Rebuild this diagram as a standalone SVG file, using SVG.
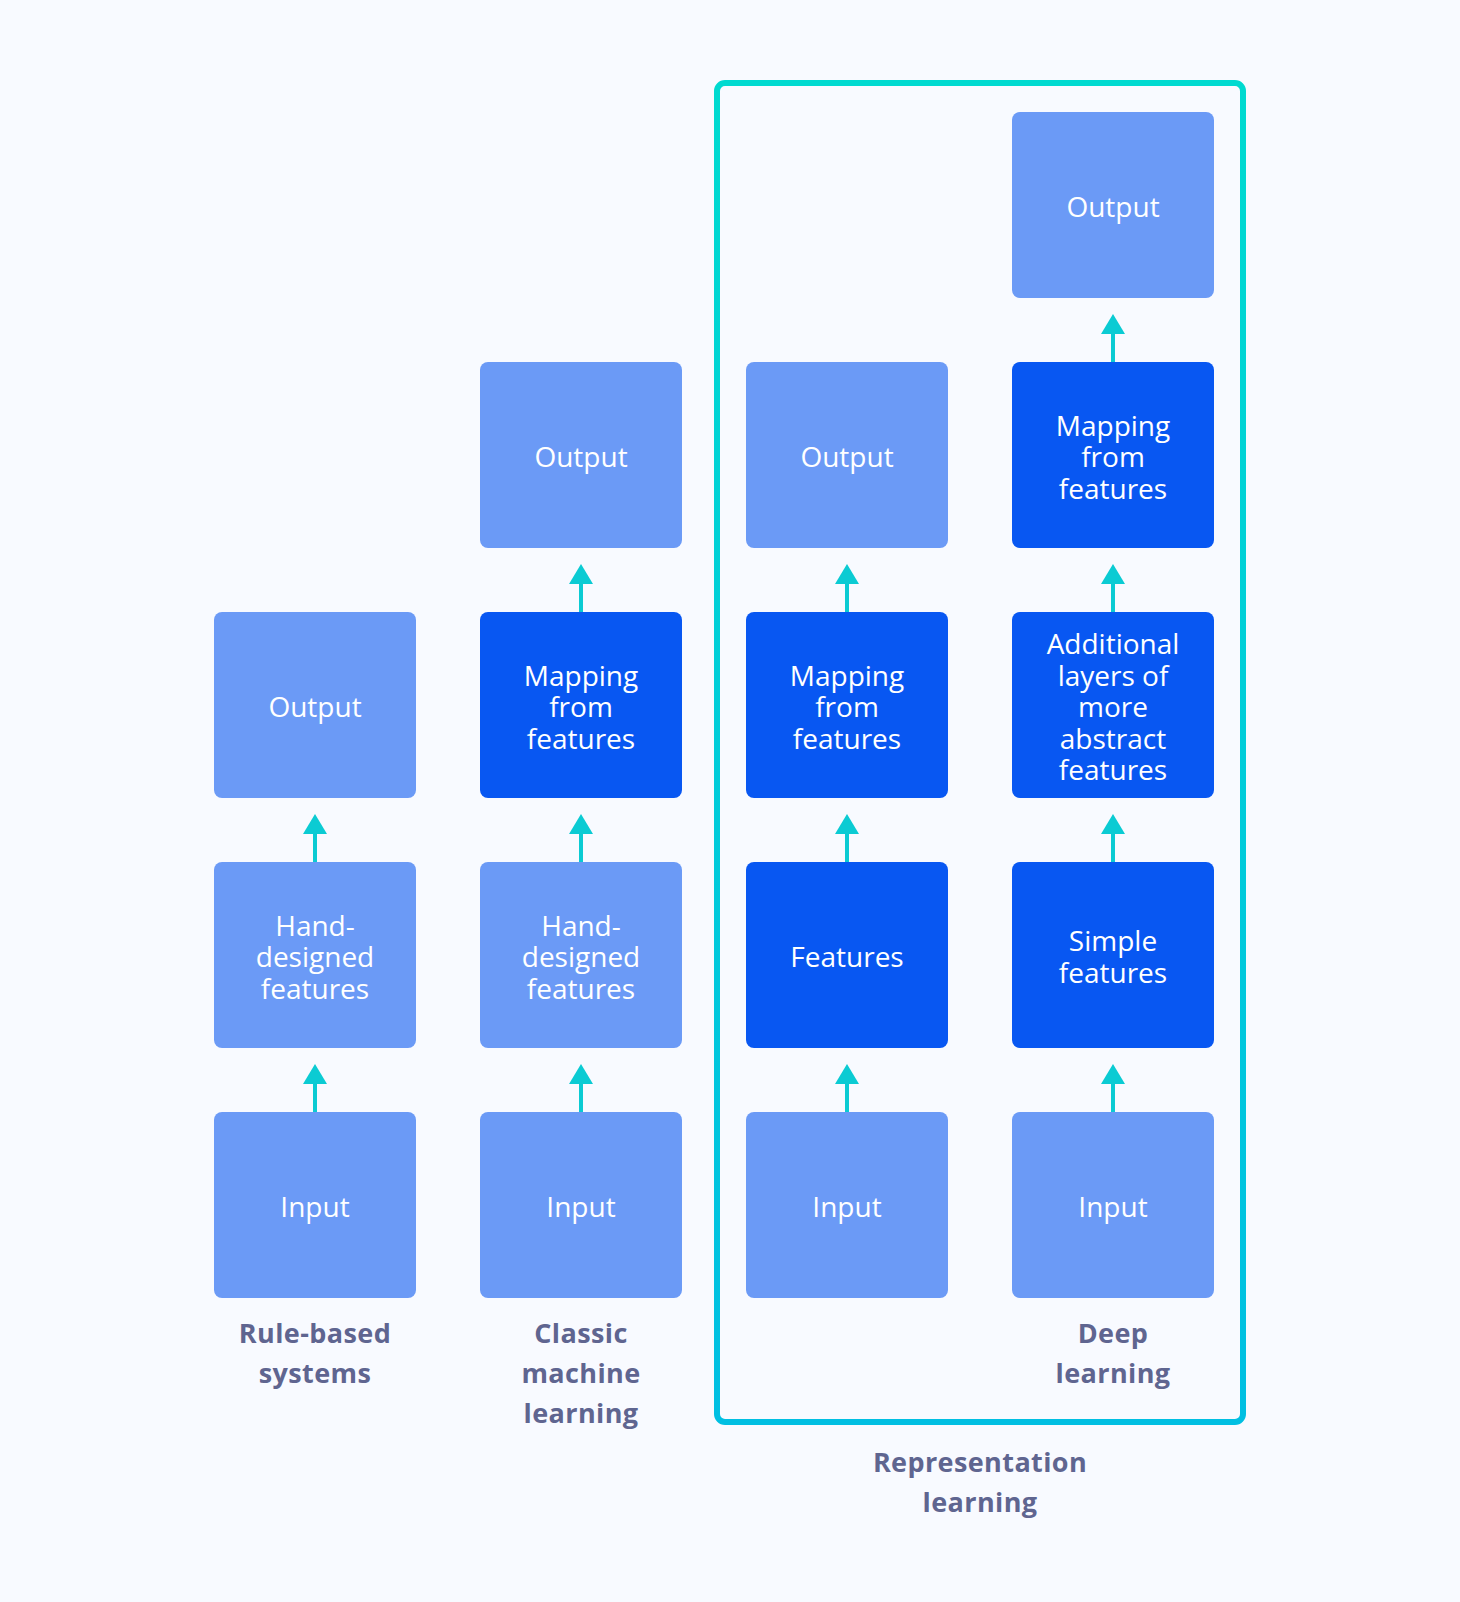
<svg xmlns="http://www.w3.org/2000/svg" width="1460" height="1602" viewBox="0 0 1460 1602">
<defs>
<style>
.lt{fill:#6B9AF6}
.dk{fill:#0857F2}
.bt{font-family:"Open Sans","Liberation Sans",sans-serif;font-size:28px;font-weight:500;fill:#FFFFFF;text-anchor:middle}
.lb{font-family:"Open Sans","Liberation Sans",sans-serif;font-size:27px;font-weight:700;fill:#5F6590;text-anchor:middle;letter-spacing:0.4px}
.ar{stroke:#0BCBD3;stroke-width:4;fill:none}
</style>
<marker id="ah" viewBox="0 0 20 24" refX="0" refY="12" markerWidth="20" markerHeight="24" markerUnits="userSpaceOnUse" orient="auto">
<path d="M0,0 L20,12 L0,24 Z" fill="#0BCBD3"/>
</marker>
<linearGradient id="fg" x1="0" y1="0" x2="0" y2="1">
<stop offset="0" stop-color="#00DAD0"/>
<stop offset="1" stop-color="#00BFE2"/>
</linearGradient>
</defs>
<rect x="0" y="0" width="1460" height="1602" fill="#F8FAFF"/>

<g id="representation-frame">
<rect x="717" y="83" width="526" height="1339" rx="8" fill="none" stroke="url(#fg)" stroke-width="6"/>
</g>

<g id="connectors">
<line class="ar" x1="315" y1="862" x2="315" y2="834" marker-end="url(#ah)"/>
<line class="ar" x1="315" y1="1112" x2="315" y2="1084" marker-end="url(#ah)"/>
<line class="ar" x1="581" y1="612" x2="581" y2="584" marker-end="url(#ah)"/>
<line class="ar" x1="581" y1="862" x2="581" y2="834" marker-end="url(#ah)"/>
<line class="ar" x1="581" y1="1112" x2="581" y2="1084" marker-end="url(#ah)"/>
<line class="ar" x1="847" y1="612" x2="847" y2="584" marker-end="url(#ah)"/>
<line class="ar" x1="847" y1="862" x2="847" y2="834" marker-end="url(#ah)"/>
<line class="ar" x1="847" y1="1112" x2="847" y2="1084" marker-end="url(#ah)"/>
<line class="ar" x1="1113" y1="362" x2="1113" y2="334" marker-end="url(#ah)"/>
<line class="ar" x1="1113" y1="612" x2="1113" y2="584" marker-end="url(#ah)"/>
<line class="ar" x1="1113" y1="862" x2="1113" y2="834" marker-end="url(#ah)"/>
<line class="ar" x1="1113" y1="1112" x2="1113" y2="1084" marker-end="url(#ah)"/>
</g>

<g id="rb-output"><rect class="lt" x="214" y="612" width="202" height="186" rx="8"/><text class="bt" x="315" y="717">Output</text></g>
<g id="rb-hand"><rect class="lt" x="214" y="862" width="202" height="186" rx="8"/><text class="bt" x="315" y="935.5">Hand-</text><text class="bt" x="315" y="967">designed</text><text class="bt" x="315" y="998.5">features</text></g>
<g id="rb-input"><rect class="lt" x="214" y="1112" width="202" height="186" rx="8"/><text class="bt" x="315" y="1217">Input</text></g>

<g id="cm-output"><rect class="lt" x="480" y="362" width="202" height="186" rx="8"/><text class="bt" x="581" y="467">Output</text></g>
<g id="cm-mapping"><rect class="dk" x="480" y="612" width="202" height="186" rx="8"/><text class="bt" x="581" y="685.5">Mapping</text><text class="bt" x="581" y="717">from</text><text class="bt" x="581" y="748.5">features</text></g>
<g id="cm-hand"><rect class="lt" x="480" y="862" width="202" height="186" rx="8"/><text class="bt" x="581" y="935.5">Hand-</text><text class="bt" x="581" y="967">designed</text><text class="bt" x="581" y="998.5">features</text></g>
<g id="cm-input"><rect class="lt" x="480" y="1112" width="202" height="186" rx="8"/><text class="bt" x="581" y="1217">Input</text></g>

<g id="rl-output"><rect class="lt" x="746" y="362" width="202" height="186" rx="8"/><text class="bt" x="847" y="467">Output</text></g>
<g id="rl-mapping"><rect class="dk" x="746" y="612" width="202" height="186" rx="8"/><text class="bt" x="847" y="685.5">Mapping</text><text class="bt" x="847" y="717">from</text><text class="bt" x="847" y="748.5">features</text></g>
<g id="rl-features"><rect class="dk" x="746" y="862" width="202" height="186" rx="8"/><text class="bt" x="847" y="967">Features</text></g>
<g id="rl-input"><rect class="lt" x="746" y="1112" width="202" height="186" rx="8"/><text class="bt" x="847" y="1217">Input</text></g>

<g id="dl-output"><rect class="lt" x="1012" y="112" width="202" height="186" rx="8"/><text class="bt" x="1113" y="217">Output</text></g>
<g id="dl-mapping"><rect class="dk" x="1012" y="362" width="202" height="186" rx="8"/><text class="bt" x="1113" y="435.5">Mapping</text><text class="bt" x="1113" y="467">from</text><text class="bt" x="1113" y="498.5">features</text></g>
<g id="dl-additional"><rect class="dk" x="1012" y="612" width="202" height="186" rx="8"/><text class="bt" x="1113" y="654">Additional</text><text class="bt" x="1113" y="685.5">layers of</text><text class="bt" x="1113" y="717">more</text><text class="bt" x="1113" y="748.5">abstract</text><text class="bt" x="1113" y="780">features</text></g>
<g id="dl-simple"><rect class="dk" x="1012" y="862" width="202" height="186" rx="8"/><text class="bt" x="1113" y="951.25">Simple</text><text class="bt" x="1113" y="982.75">features</text></g>
<g id="dl-input"><rect class="lt" x="1012" y="1112" width="202" height="186" rx="8"/><text class="bt" x="1113" y="1217">Input</text></g>

<g id="labels">
<text class="lb" x="315" y="1343">Rule-based</text>
<text class="lb" x="315" y="1383">systems</text>
<text class="lb" x="581" y="1343">Classic</text>
<text class="lb" x="581" y="1383">machine</text>
<text class="lb" x="581" y="1423">learning</text>
<text class="lb" x="1113" y="1343">Deep</text>
<text class="lb" x="1113" y="1383">learning</text>
<text class="lb" x="980" y="1472">Representation</text>
<text class="lb" x="980" y="1512">learning</text>
</g>
</svg>
